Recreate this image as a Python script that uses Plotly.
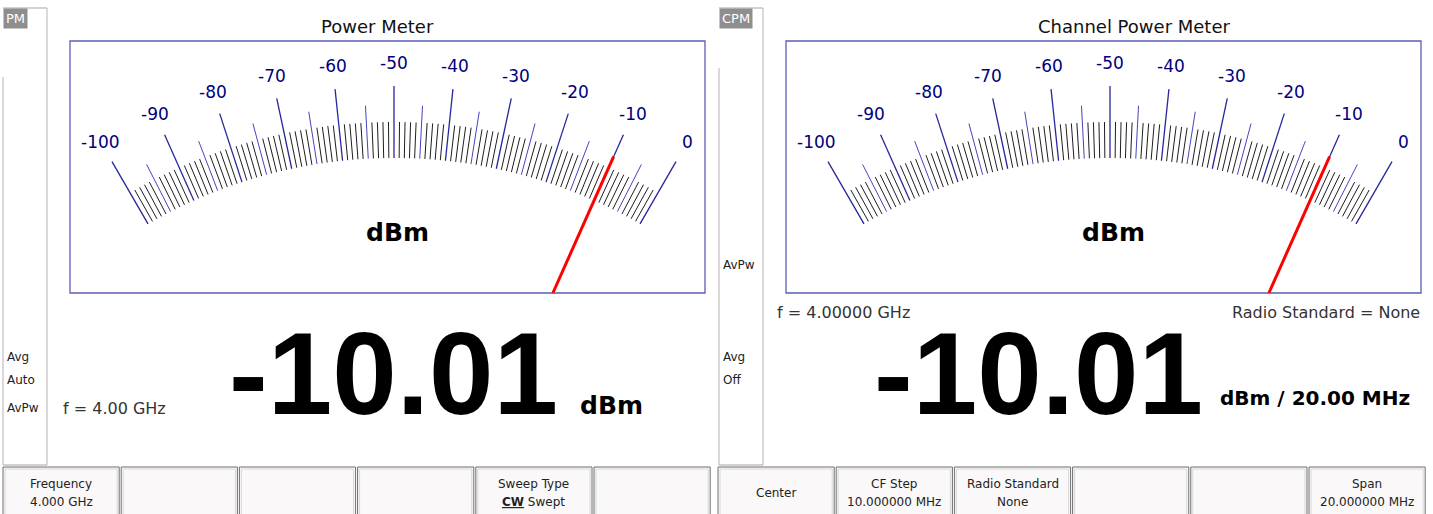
import numpy as np
import plotly.graph_objects as go

W, H = 1433, 514

# ---------------- data ----------------
tick_values = list(range(-100, 1))                     # 1 dB scale graduations
major_values = [-100, -90, -80, -70, -60, -50, -40, -30, -20, -10, 0]
major_labels = ["-100", "-90", "-80", "-70", "-60", "-50", "-40", "-30", "-20", "-10", "0"]
readings = [-10.01, -10.01]                            # needle values (dBm)
reading_texts = ["-10.01", "-10.01"]
unit_texts = ["dBm", "dBm / 20.00 MHz"]
panel_titles = ["Power Meter", "Channel Power Meter"]
mode_tags = ["PM", "CPM"]
freq_texts = ["f = 4.00 GHz", "f = 4.00000 GHz"]
radio_text = "Radio Standard = None"
side_texts_left = ["Avg", "Auto", "AvPw"]
side_texts_right = ["AvPw", "Avg", "Off"]
left_softkeys = [("Frequency", "4.000 GHz"), ("", ""), ("", ""), ("", ""),
                 ("Sweep Type", "<b><u>CW</u></b> Swept"), ("", "")]
right_softkeys = [("Center", ""), ("CF Step", "10.000000 MHz"), ("Radio Standard", "None"),
                  ("", ""), ("", ""), ("Span", "20.000000 MHz")]

# ---------------- geometry / style ----------------
panels = [dict(x0=70, x1=705, y0=41, y1=293, px=394, py=650, title_x=377,
               big_x=393, unit_x=578, unit_y=405, unit_size=25, freq_x=61, freq_y=408),
          dict(x0=786, x1=1421, y0=41, y1=293, px=1110, py=650, title_x=1134,
               big_x=1038, unit_x=1218, unit_y=398, unit_size=20, freq_x=775, freq_y=312)]
DEG_PER_DB = 0.6
MID = -50
R_IN, R_MINOR, R_HALF, R_MAJOR, R_LABEL, R_NEEDLE = 492, 528, 545, 564, 587, 540
SANS = "DejaVu Sans"


def pt(p, r, v):
    th = np.radians((v - MID) * DEG_PER_DB)
    return p["px"] + r * np.sin(th), p["py"] - r * np.cos(th)


fig = go.Figure()
shapes = []
ann = []


def seg_trace(p, values, r1, color, width):
    xs, ys = [], []
    for v in values:
        xa, ya = pt(p, R_IN, v)
        xb, yb = pt(p, r1, v)
        xs += [xa, xb, None]
        ys += [ya, yb, None]
    return go.Scatter(x=xs, y=ys, mode="lines", line=dict(color=color, width=width),
                      hoverinfo="skip", showlegend=False)


for i, p in enumerate(panels):
    # meter box
    shapes.append(dict(type="rect", xref="x", yref="y", x0=p["x0"], x1=p["x1"], y0=p["y0"], y1=p["y1"],
                       line=dict(color="#5c5cb8", width=1.3), fillcolor="white", layer="below"))
    minors = [v for v in tick_values if v % 5 != 0]
    halves = [v for v in tick_values if v % 5 == 0 and v % 10 != 0]
    majors = [v for v in tick_values if v % 10 == 0]
    fig.add_trace(seg_trace(p, minors, R_MINOR, "#1e1e1e", 1))
    fig.add_trace(seg_trace(p, halves, R_HALF, "#4545c0", 1))
    fig.add_trace(seg_trace(p, majors, R_MAJOR, "#26269c", 1.3))
    # labels
    for v, lab in zip(major_values, major_labels):
        lx, ly = pt(p, R_LABEL, v)
        ann.append(dict(x=lx, y=ly, text=lab, showarrow=False, xanchor="center", yanchor="middle",
                        font=dict(family=SANS, size=17, color="#00007c")))
    # needle, clipped at box bottom
    th = np.radians((readings[i] - MID) * DEG_PER_DB)
    r0 = (p["py"] - p["y1"]) / np.cos(th)
    nx0, ny0 = pt(p, r0, readings[i])
    nx1, ny1 = pt(p, R_NEEDLE, readings[i])
    fig.add_trace(go.Scatter(x=[nx0, nx1], y=[ny0, ny1], mode="lines",
                             line=dict(color="#ff0000", width=3), hoverinfo="skip", showlegend=False))
    # texts
    ann.append(dict(x=p["title_x"], y=26, text=panel_titles[i], showarrow=False, xanchor="center",
                    yanchor="middle", font=dict(family=SANS, size=18, color="#111111")))
    ann.append(dict(x=(p["x0"] + p["x1"]) / 2 + 10, y=232, text="<b>dBm</b>", showarrow=False,
                    xanchor="center", yanchor="middle", font=dict(family=SANS, size=25, color="#000000")))
    ann.append(dict(x=p["big_x"], y=374, text="<b>" + reading_texts[i] + "</b>", showarrow=False,
                    xanchor="center", yanchor="middle",
                    font=dict(family="Liberation Sans", size=116, color="#000000")))
    ann.append(dict(x=p["unit_x"], y=p["unit_y"], text="<b>" + unit_texts[i] + "</b>", showarrow=False,
                    xanchor="left", yanchor="middle",
                    font=dict(family=SANS, size=p["unit_size"], color="#000000")))
    ann.append(dict(x=p["freq_x"], y=p["freq_y"], text=freq_texts[i], showarrow=False,
                    xanchor="left", yanchor="middle", font=dict(family=SANS, size=16, color="#333333")))

ann.append(dict(x=1422, y=312, text=radio_text, showarrow=False, xanchor="right", yanchor="middle",
                font=dict(family=SANS, size=16, color="#333333")))

# side bars
for sx0, sx1, gap_end, tag in [(3, 47, 77, mode_tags[0]), (719, 763, 68, mode_tags[1])]:
    for (a, b, c, d) in [(sx0, 8, sx1, 8), (sx1, 8, sx1, 465), (sx0, 465, sx1, 465), (sx0, gap_end, sx0, 465)]:
        shapes.append(dict(type="line", xref="x", yref="y", x0=a, y0=b, x1=c, y1=d,
                           line=dict(color="#c4c4c4", width=1.3)))
    ann.append(dict(x=sx0, y=18, text=tag, showarrow=False, xanchor="left", yanchor="middle",
                    bgcolor="#8e8e8e", borderpad=2,
                    font=dict(family=SANS, size=13, color="#ffffff")))

for txt, yy in zip(side_texts_left, [357, 380, 408]):
    ann.append(dict(x=5, y=yy, text=txt, showarrow=False, xanchor="left", yanchor="middle",
                    font=dict(family=SANS, size=12, color="#222222")))
for txt, yy in zip(side_texts_right, [265, 357, 380]):
    ann.append(dict(x=721, y=yy, text=txt, showarrow=False, xanchor="left", yanchor="middle",
                    font=dict(family=SANS, size=12, color="#222222")))

# soft keys
BW = 118.2
for start, keys in [(3, left_softkeys), (718, right_softkeys)]:
    for k, (l1, l2) in enumerate(keys):
        bx0 = start + k * BW
        bx1 = bx0 + BW - 2
        shapes.append(dict(type="rect", xref="x", yref="y", x0=bx0, x1=bx1, y0=467, y1=530,
                           line=dict(color="#6e6e6e", width=1), fillcolor="#fbf8f9", layer="below"))
        shapes.append(dict(type="rect", xref="x", yref="y", x0=bx0 + 2, x1=bx1 - 2, y0=469, y1=530,
                           line=dict(color="#d8d8d8", width=1), fillcolor="rgba(0,0,0,0)", layer="below"))
        cx = (bx0 + bx1) / 2
        if l1 and l2:
            ann.append(dict(x=cx, y=484, text=l1, showarrow=False, xanchor="center", yanchor="middle",
                            font=dict(family=SANS, size=12, color="#222222")))
            ann.append(dict(x=cx, y=502, text=l2, showarrow=False, xanchor="center", yanchor="middle",
                            font=dict(family=SANS, size=12, color="#222222")))
        elif l1:
            ann.append(dict(x=cx, y=493, text=l1, showarrow=False, xanchor="center", yanchor="middle",
                            font=dict(family=SANS, size=12, color="#222222")))

fig.update_layout(
    width=W, height=H, margin=dict(l=0, r=0, t=0, b=0),
    paper_bgcolor="white", plot_bgcolor="white", showlegend=False,
    xaxis=dict(range=[0, W], visible=False, fixedrange=True),
    yaxis=dict(range=[H, 0], visible=False, fixedrange=True),
    shapes=shapes, annotations=ann,
)
fig.write_html("out.html", config={"displayModeBar": False},
               post_script="document.body.style.margin='0';document.body.style.overflow='hidden';")
